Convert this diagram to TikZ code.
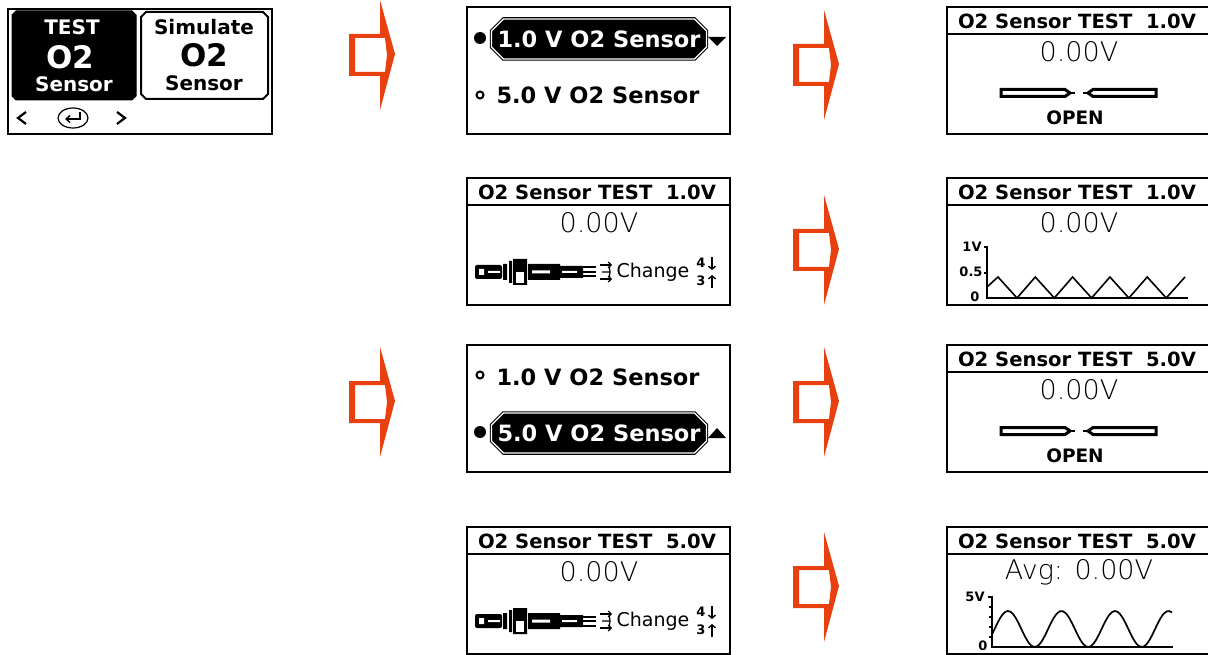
\documentclass[tikz,border=0pt]{standalone}
\usepackage{fontspec}
\setmainfont{DejaVu Sans}
\newfontfamily\thinfont{DejaVu Sans ExtraLight}
\usetikzlibrary{shapes.misc,arrows.meta}
\definecolor{stepred}{RGB}{232,65,15}
\newcommand{\headfont}{\fontsize{19.6}{22}\bfseries\selectfont}
\newcommand{\openfont}{\fontsize{18.5}{21}\bfseries\selectfont}
\newcommand{\menufont}{\fontsize{22.5}{26}\bfseries\selectfont}
\newcommand{\iconfont}{\fontsize{20}{22}\bfseries\selectfont}
\newcommand{\bigfont}{\fontsize{31}{34}\bfseries\selectfont}
\newcommand{\valuefont}{\fontsize{27}{30}\thinfont}
\newcommand{\tinyfont}{\fontsize{13}{14}\bfseries\selectfont}
\tikzset{
  screen/.style={draw,fill=white,line width=2pt,rectangle,inner sep=0pt,outer sep=0pt,minimum width=263pt,minimum height=127pt,anchor=north west},
  pill/.style={chamfered rectangle,chamfered rectangle xsep=6pt,chamfered rectangle ysep=6pt,draw,fill=black,text=white,double=white,double distance=1.3pt,line width=1.1pt,inner sep=0pt,minimum width=201pt,minimum height=40pt,font=\menufont},
  word/.style={inner sep=0pt,outer sep=0pt},
  pics/nextarrow/.style={code={
    \fill[stepred,even odd rule]
      (0,-21) -- (31,-21) -- (31,-55) -- (46,-1) -- (31,55) -- (31,21) -- (0,21) -- cycle
      (6,-17) -- (36,-17) -- (38,0) -- (36,17) -- (6,17) -- cycle;
  }},
  pics/titlescreen/.style n args={2}{code={
    \node[screen] (-box) at (0,0) {};
    \draw[line width=1.5pt] (0,27) -- (263,27);
    \node[word,font=\headfont] (-title) at (130,14) {#1};
    \node[word,font=\valuefont] (-value) at (132,45) {#2};
  }},
  pics/sensorrow/.style={code={
    \begin{scope}[shift={(8,94)}]
      \fill[rounded corners=2pt] (0,-7) rectangle (27,7);
      \fill[white] (4,-3) rectangle (9,3) (13,-1) rectangle (25,1);
      \fill (28,-8) rectangle (32,8) (34,-11) rectangle (37,11) (38,-13) rectangle (52,13);
      \fill[white] (41,0) rectangle (49,11);
      \fill (53,-8) rectangle (85,8) (85,-6) rectangle (108,6);
      \fill[white] (57,-1.5) rectangle (75,1.5) (87,-1) rectangle (102,1);
      \draw[line width=2pt] (108,-4.5) -- (121,-4.5) (108,0) -- (121,0) (108,4.5) -- (121,4.5);
      \draw[line width=1.2pt,-{Straight Barb[length=3pt,width=6pt]}] (125,-7) -- (137,-7);
      \draw[line width=1.2pt,-{Straight Barb[length=3pt,width=6pt]}] (125,7) -- (137,7);
      \draw[line width=1.2pt] (127,0) -- (135,0) (134,-7) -- (135,0) -- (134,7);
    \end{scope}
    \node[word,font=\fontsize{19}{21}\selectfont] (-change) at (186,94) {Change};
    \node[word,font=\tinyfont] (-four) at (234,85) {4};
    \node[word,font=\tinyfont] (-three) at (234,103) {3};
    \draw[line width=1.4pt,-{Straight Barb[length=3pt,width=7pt]}] (245,79) -- (245,92);
    \draw[line width=1.4pt,-{Straight Barb[length=3pt,width=7pt]}] (245,110) -- (245,97);
  }},
  pics/openrow/.style={code={
    \draw[line width=2pt] (120,86) -- (128,86);
    \draw[line width=2pt] (144,86) -- (136,86);
    \draw[fill=white,line width=3pt] (54,82.5) -- (118,82.5) -- (123,86) -- (118,89.5) -- (54,89.5) -- cycle;
    \draw[fill=white,line width=3pt] (209,82.5) -- (146,82.5) -- (141,86) -- (146,89.5) -- (209,89.5) -- cycle;
    \node[word,font=\openfont] (-open) at (128,111) {OPEN};
  }},
}
\begin{document}
\begin{tikzpicture}[x=1pt,y=-1pt]
  \clip (0,0) rectangle (1208,655);
  % main menu
  \node[screen,minimum width=264pt,minimum height=125pt] (menu) at (8,9) {};
  \draw[fill=black,line width=1pt] (16,11) -- (132,11) -- (136,15) -- (136,96) -- (132,100) -- (16,100) -- (12,96) -- (12,15) -- cycle;
  \draw[fill=white,line width=2pt] (146,12) -- (263,12) -- (268,17) -- (268,94) -- (263,99) -- (146,99) -- (141,94) -- (141,17) -- cycle;
  \node[word,white,font=\iconfont] (testWord) at (72,27) {TEST};
  \node[word,white,font=\bigfont] (testO) at (70,57) {O2};
  \node[word,white,font=\iconfont] (testSensor) at (74,84) {Sensor};
  \node[word,font=\iconfont] (simWord) at (204,27) {Simulate};
  \node[word,font=\bigfont] (simO) at (204,55) {O2};
  \node[word,font=\iconfont] (simSensor) at (204,83) {Sensor};
  \draw[line width=2.2pt] (26,112) -- (18,118) -- (26,124);
  \draw[line width=2.2pt] (117,112) -- (125,118) -- (117,124);
  \draw[line width=1.2pt] (73,118) ellipse (15 and 10);
  \draw[line width=1.4pt,-{Straight Barb[length=4pt,width=7pt]}] (80,112) -- (80,119) -- (65,119);
  % arrows
  \pic at (349,55) {nextarrow};
  \pic at (793,65) {nextarrow};
  \pic at (793,250) {nextarrow};
  \pic at (349,402) {nextarrow};
  \pic at (793,402) {nextarrow};
  \pic at (793,587) {nextarrow};
  % voltage menus
  \node[screen] (pickOne) at (467,7) {};
  \node[pill] (pillOne) at (599,39) {1.0 V O2 Sensor};
  \fill (480,38) circle (6);
  \fill (708,37) -- (726,37) -- (717,46) -- cycle;
  \draw[line width=2pt] (480,95) circle (3.5);
  \node[word,font=\menufont] (rowFive) at (598,95) {5.0 V O2 Sensor};
  \node[screen] (pickFive) at (467,345) {};
  \draw[line width=2pt] (480,375) circle (3.5);
  \node[word,font=\menufont] (rowOne) at (598,377) {1.0 V O2 Sensor};
  \node[pill] (pillFive) at (599,433) {5.0 V O2 Sensor};
  \fill (480,432) circle (6);
  \fill (708,438) -- (726,438) -- (717,428) -- cycle;
  % change sensor screens
  \pic (chgOne) at (467,178) {titlescreen={O2 Sensor TEST\ \ 1.0V}{0.00V}};
  \pic (chgOneRow) at (467,178) {sensorrow};
  \pic (chgFive) at (467,527) {titlescreen={O2 Sensor TEST\ \ 5.0V}{0.00V}};
  \pic (chgFiveRow) at (467,527) {sensorrow};
  % result screens
  \pic (openOne) at (947,7) {titlescreen={O2 Sensor TEST\ \ 1.0V}{0.00V}};
  \pic (openOneRow) at (947,7) {openrow};
  \pic (waveOne) at (947,178) {titlescreen={O2 Sensor TEST\ \ 1.0V}{0.00V}};
  \pic (openFive) at (947,345) {titlescreen={O2 Sensor TEST\ \ 5.0V}{0.00V}};
  \pic (openFiveRow) at (947,345) {openrow};
  \pic (waveFive) at (947,527) {titlescreen={O2 Sensor TEST\ \ 5.0V}{Avg: 0.00V}};
  % 1V wave
  \draw[line width=1.6pt] (984,247) -- (987,247) -- (987,298) -- (1188,298) (984,273) -- (987,273);
  \node[word,font=\tinyfont] (oneV) at (972,247) {1V};
  \node[word,font=\tinyfont] (halfV) at (971,272) {0.5};
  \node[word,font=\tinyfont] (zeroOne) at (975,297) {0};
  \draw[line width=1.6pt] (987,287) \foreach \i in {0,...,4} { -- ({998+37.3*\i},277) -- ({1017+37.3*\i},298) } -- (1185,277);
  % 5V wave
  \draw[line width=1.6pt] (988,597) -- (992,597) -- (992,647) -- (1173,647);
  \foreach \y in {607,617,627,637} \draw[line width=1.2pt] (989,\y) -- (992,\y);
  \node[word,font=\tinyfont] (fiveV) at (975,597) {5V};
  \node[word,font=\tinyfont] (zeroFive) at (983,646) {0};
  \draw[line width=1.7pt] plot[domain=0:180,samples=70,smooth] ({992+\x},{629-18*sin(6.729*(\x-2.6))});
\end{tikzpicture}
\end{document}
